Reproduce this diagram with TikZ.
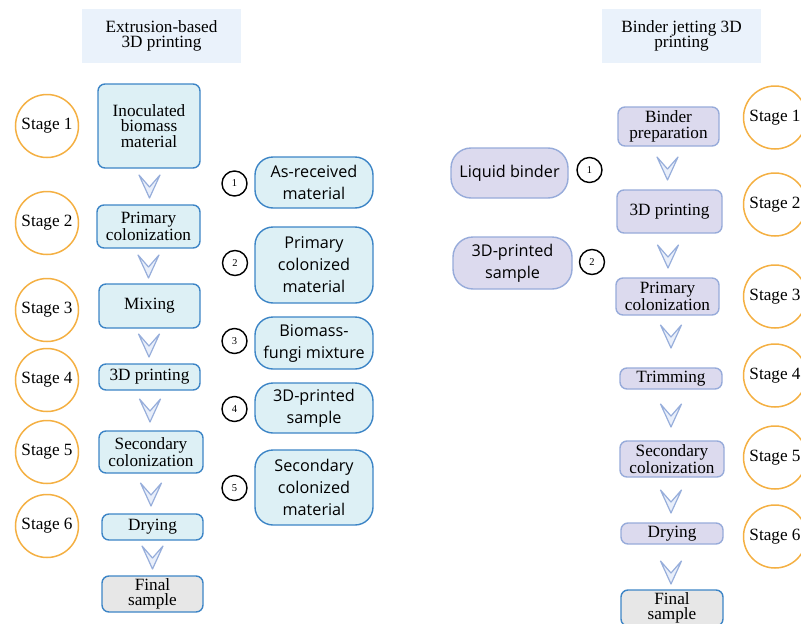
\documentclass[tikz,border=0pt]{standalone}
\usepackage{fontspec}
\setmainfont{Liberation Serif}
\newfontfamily\sansf{Open Sans}
\definecolor{lbfill}{HTML}{DDF0F5}
\definecolor{lbdraw}{HTML}{3D85C6}
\definecolor{pfill}{HTML}{DCDAEE}
\definecolor{pdraw}{HTML}{97ABDA}
\definecolor{tfill}{HTML}{EAF2FB}
\definecolor{orng}{HTML}{F4B043}
\definecolor{chevd}{HTML}{97AEDB}
\definecolor{chevf}{HTML}{E9EFFA}
\definecolor{gfill}{HTML}{E7E7E7}
\tikzset{
  serif/.style={font=\fontsize{17.2}{15.5}\selectfont, align=center},
  titlebox/.style={serif, fill=tfill, inner sep=0pt},
  lbox/.style={serif, draw=lbdraw, fill=lbfill, line width=1.4pt, rounded corners=7pt, inner sep=0pt},
  pbox/.style={serif, draw=pdraw, fill=pfill, line width=1.4pt, rounded corners=7pt, inner sep=0pt},
  gbox/.style={serif, draw=lbdraw, fill=gfill, line width=1.4pt, rounded corners=7pt, inner sep=0pt},
  lsbox/.style={font=\sansf\fontsize{16.2}{22}\selectfont, align=center, draw=lbdraw, fill=lbfill, line width=1.4pt, rounded corners=18pt, inner sep=0pt},
  psbox/.style={font=\sansf\fontsize{16.2}{22}\selectfont, align=center, draw=pdraw, fill=pfill, line width=1.4pt, rounded corners=20pt, inner sep=0pt},
  stagec/.style={serif, circle, draw=orng, line width=1.5pt, minimum size=63pt, inner sep=0pt},
  numc/.style={circle, draw=black, line width=1.4pt, minimum size=25pt, inner sep=0pt, font=\fontsize{10.5}{10.5}\selectfont},
  chev/.pic={\draw[chevd, fill=chevf, line width=1.2pt, line join=round] (-10.5,0) -- (0,23) -- (10.5,0) -- (0,12) -- cycle;}
}
\begin{document}
\begin{tikzpicture}[x=1pt, y=-1pt]
\useasboundingbox (0,0) rectangle (801,624);
% ---- Left: extrusion-based ----
\node[titlebox, minimum width=159pt, minimum height=54pt] (t1) at (161.5,36) {Extrusion-based\\3D printing};
\node[stagec] (ls1) at (47,126) {Stage 1};
\node[stagec] (ls2) at (47,223) {Stage 2};
\node[stagec] (ls3) at (47,310) {Stage 3};
\node[stagec] (ls4) at (47,380) {Stage 4};
\node[stagec] (ls5) at (47,452) {Stage 5};
\node[stagec] (ls6) at (47,526) {Stage 6};
\node[lbox, minimum width=102pt, minimum height=84pt] (inoc) at (149,126) {Inoculated\\biomass\\material};
\node[lbox, minimum width=103pt, minimum height=43pt] (prim) at (148.5,226.5) {Primary\\colonization};
\node[lbox, minimum width=101pt, minimum height=44pt] (mix) at (149.5,306) {Mixing};
\node[lbox, minimum width=101pt, minimum height=26pt] (prt) at (149.5,377) {3D printing};
\node[lbox, minimum width=104pt, minimum height=42pt] (sec) at (151,452) {Secondary\\colonization};
\node[lbox, minimum width=101pt, minimum height=26pt] (dry) at (152.5,527) {Drying};
\node[gbox, minimum width=101pt, minimum height=36pt] (fin) at (152.5,594) {Final\\sample};
\pic at (149.5,175) {chev};
\pic at (148.5,255) {chev};
\pic at (149,334) {chev};
\pic at (150,399) {chev};
\pic at (151,483) {chev};
\pic at (152.5,546) {chev};
\node[numc] (n1) at (234.5,183.5) {1};
\node[numc] (n2) at (235,263) {2};
\node[numc] (n3) at (234.5,341) {3};
\node[numc] (n4) at (234.5,409) {4};
\node[numc] (n5) at (234.5,488) {5};
\node[lsbox, minimum width=118pt, minimum height=51pt] (asr) at (314,182.5) {As-received\\material};
\node[lsbox, minimum width=118pt, minimum height=76pt] (pcm) at (314,265) {Primary\\colonized\\material};
\node[lsbox, minimum width=118pt, minimum height=52pt] (bfm) at (314,343) {Biomass-\\fungi mixture};
\node[lsbox, minimum width=118pt, minimum height=50pt] (tps) at (314,408) {3D-printed\\sample};
\node[lsbox, minimum width=118pt, minimum height=75pt] (scm) at (314,487.5) {Secondary\\colonized\\material};
% ---- Right: binder jetting ----
\node[titlebox, minimum width=159pt, minimum height=54pt] (t2) at (681.5,36) {Binder jetting 3D\\printing};
\node[stagec] (rs1) at (775,117.5) {Stage 1};
\node[stagec] (rs2) at (775,204.5) {Stage 2};
\node[stagec] (rs3) at (775,296.5) {Stage 3};
\node[stagec] (rs4) at (775,375.5) {Stage 4};
\node[stagec] (rs5) at (775,457.5) {Stage 5};
\node[stagec] (rs6) at (775,536.5) {Stage 6};
\node[pbox, minimum width=101pt, minimum height=39pt] (bprep) at (668.5,126.5) {Binder\\preparation};
\node[pbox, minimum width=105pt, minimum height=43pt] (rprt) at (669.5,211.5) {3D printing};
\node[pbox, minimum width=103pt, minimum height=37pt] (rprim) at (667.5,296.5) {Primary\\colonization};
\node[pbox, minimum width=102pt, minimum height=21pt] (trim) at (671,378.5) {Trimming};
\node[pbox, minimum width=104pt, minimum height=36pt] (rsec) at (672,459) {Secondary\\colonization};
\node[pbox, minimum width=102pt, minimum height=21pt] (rdry) at (672,533.5) {Drying};
\node[gbox, minimum width=102pt, minimum height=36pt] (rfin) at (672,608) {Final\\sample};
\pic at (667.5,157) {chev};
\pic at (668,245) {chev};
\pic at (671,325) {chev};
\pic at (671,404) {chev};
\pic at (671,490) {chev};
\pic at (671,561) {chev};
\node[psbox, minimum width=117pt, minimum height=50pt] (lb) at (509.5,173) {Liquid binder};
\node[psbox, minimum width=119pt, minimum height=52pt] (r3d) at (512.5,263) {3D-printed\\sample};
\node[numc] (m1) at (589.5,170) {1};
\node[numc] (m2) at (592,262) {2};
\end{tikzpicture}
\end{document}
